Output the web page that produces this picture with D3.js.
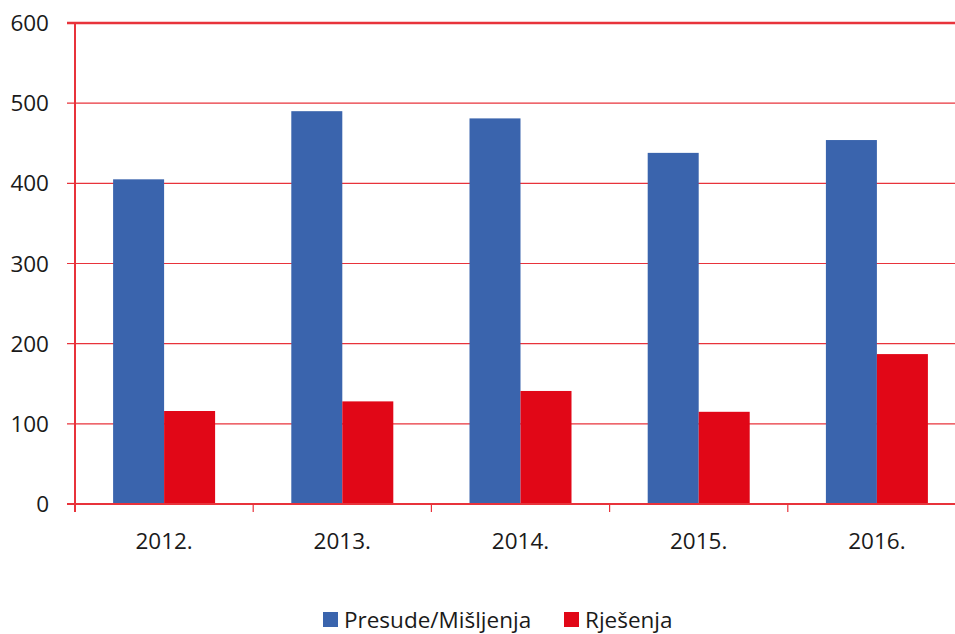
<!DOCTYPE html>
<html><head><meta charset="utf-8">
<script src="https://cdn.jsdelivr.net/npm/d3@7"></script>
<style>body{margin:0;background:#fff;} svg{display:block;font-family:"Open Sans",sans-serif;}</style>
</head><body><svg id="c" width="955" height="634"></svg>
<script>
const categories = ["2012.","2013.","2014.","2015.","2016."];
const seriesNames = ["Presude/Mišljenja","Rješenja"];
const presude = [405, 490, 481, 438, 454];
const rjesenja = [116, 128, 141, 115, 187];
const yTicks = [0,100,200,300,400,500,600];
const colors = ["#3a64ad","#e10717"];
const gridColor = "#e8333b";
const fs = 22.5;

const svg = d3.select("#c");
const mLeft = 75, mRight = 966, mTop = 23, mBottom = 504;
const x = d3.scaleBand().domain(categories).range([mLeft, mRight]).paddingInner(0).paddingOuter(0);
const y = d3.scaleLinear().domain([0,600]).range([mBottom, mTop]);
const bw = 51;
const inner = d3.scaleBand().domain(seriesNames).range([0, bw*2]);

// gridlines
svg.append("g").selectAll("line").data(yTicks.filter(d=>d>0)).join("line")
  .attr("x1", mLeft-8).attr("x2", 955)
  .attr("y1", d=>y(d)).attr("y2", d=>y(d))
  .attr("stroke", gridColor).attr("stroke-width", d=>d===600?2.5:1.2);

// y labels
svg.append("g").selectAll("text").data(yTicks).join("text")
  .attr("x", 49).attr("y", d=>y(d)).attr("dy","0.36em")
  .attr("text-anchor","end").attr("font-size",fs).attr("fill","#1a1a1a").text(d=>d);

// bars
const data = categories.map((c,i)=>({c, v:[presude[i], rjesenja[i]]}));
const g = svg.append("g");
data.forEach(d=>{
  const x0 = x(d.c) + (x.bandwidth() - bw*2)/2;
  seriesNames.forEach((s,j)=>{
    g.append("rect").attr("x", x0 + inner(s)).attr("width", inner.bandwidth())
      .attr("y", y(d.v[j])).attr("height", y(0)-y(d.v[j])).attr("fill", colors[j]);
  });
});

// left axis line
svg.append("line").attr("x1",mLeft).attr("x2",mLeft).attr("y1",mTop-1).attr("y2",mBottom+8)
  .attr("stroke",gridColor).attr("stroke-width",2);
// bottom axis
svg.append("line").attr("x1",mLeft-8).attr("x2",955).attr("y1",mBottom).attr("y2",mBottom)
  .attr("stroke",gridColor).attr("stroke-width",2);
// category ticks
svg.append("g").selectAll("line").data(categories.slice(1)).join("line")
  .attr("x1",d=>x(d)).attr("x2",d=>x(d)).attr("y1",mBottom).attr("y2",mBottom+8)
  .attr("stroke",gridColor).attr("stroke-width",1.2);

// x labels
svg.append("g").selectAll("text").data(categories).join("text")
  .attr("x", d=>x(d)+x.bandwidth()/2).attr("y", 549)
  .attr("text-anchor","middle").attr("font-size",fs).attr("fill","#1a1a1a").text(d=>d);

// legend
const leg = svg.append("g");
const legX = [323, 564];
seriesNames.forEach((s,j)=>{
  leg.append("rect").attr("x",legX[j]).attr("y",612).attr("width",15).attr("height",15).attr("fill",colors[j]);
  leg.append("text").attr("x",legX[j]+21).attr("y",620).attr("dy","0.36em").attr("font-size",fs).attr("fill","#1a1a1a").text(s);
});
</script></body></html>
